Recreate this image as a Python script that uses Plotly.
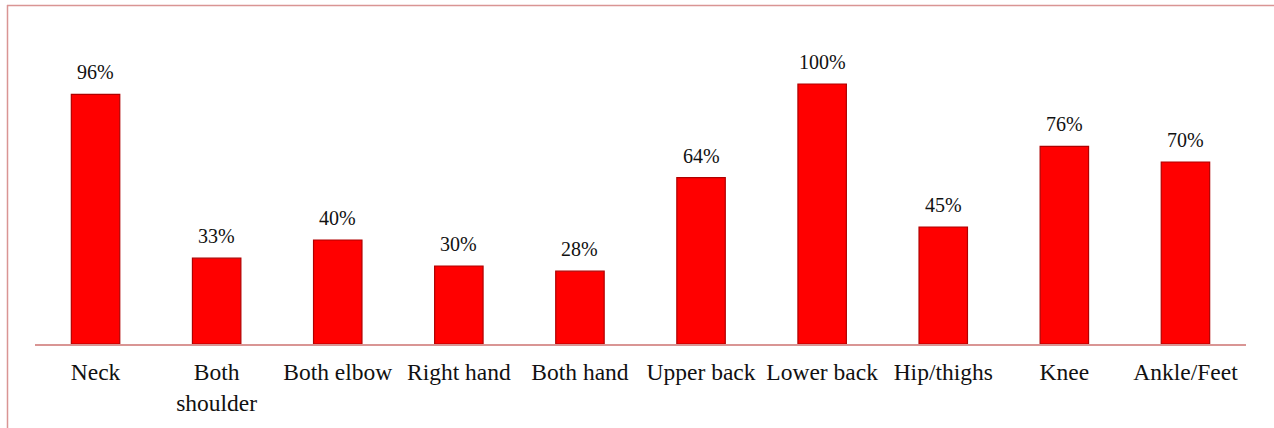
import plotly.graph_objects as go

categories = ["Neck", "Both<br>shoulder", "Both elbow", "Right hand", "Both hand",
              "Upper back", "Lower back", "Hip/thighs", "Knee", "Ankle/Feet"]
values = [96, 33, 40, 30, 28, 64, 100, 45, 76, 70]
value_labels = ["96%", "33%", "40%", "30%", "28%", "64%", "100%", "45%", "76%", "70%"]

W, H = 1274, 428
ml, mr, mt, mb = 35, 28, 32, 84
pw, ph = W - ml - mr, H - mt - mb

fig = go.Figure()
fig.add_trace(go.Bar(
    x=categories, y=values,
    width=0.4,
    marker=dict(color="#ff0000", line=dict(color="#b00000", width=1.2)),
    hoverinfo="skip",
))

annotations = []
for c, v, t in zip(categories, values, value_labels):
    annotations.append(dict(x=c, y=v, text=t, showarrow=False, yanchor="bottom",
                            yshift=9, font=dict(family="Liberation Serif", size=20, color="#111")))

def px_x(p):
    return (p - ml) / pw

def px_y(p):
    return (H - mb - p) / ph

border = "#d99594"
shapes = [
    dict(type="line", xref="paper", yref="paper", x0=px_x(7), x1=px_x(1274), y0=px_y(5.5), y1=px_y(5.5),
         line=dict(color=border, width=1.5)),
    dict(type="line", xref="paper", yref="paper", x0=px_x(7.5), x1=px_x(7.5), y0=px_y(5), y1=px_y(428),
         line=dict(color=border, width=1.5)),
]

fig.update_layout(
    width=W, height=H,
    margin=dict(l=ml, r=mr, t=mt, b=mb),
    paper_bgcolor="white", plot_bgcolor="white",
    showlegend=False,
    bargap=0.6,
    annotations=annotations,
    shapes=shapes,
    xaxis=dict(showline=True, linecolor=border, linewidth=1.5, ticks="", showgrid=False,
               tickfont=dict(family="Liberation Serif", size=23.5, color="#111"), ticklabelstandoff=6),
    yaxis=dict(range=[0, 120], visible=False, showgrid=False, zeroline=False),
)

fig.write_html("out.html")
